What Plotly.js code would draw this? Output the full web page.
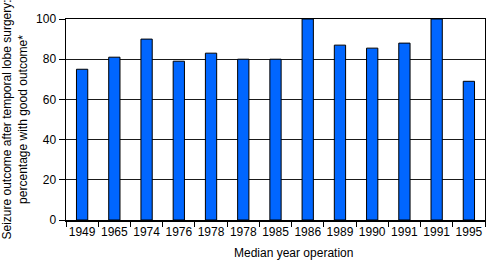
<!DOCTYPE html>
<html>
<head>
<meta charset="utf-8">
<script src="https://cdn.plot.ly/plotly-3.0.1.min.js"></script>
<style>html,body{margin:0;padding:0;background:#fff;}#chart{width:486px;height:260px;}</style>
</head>
<body>
<div id="chart"></div>
<script>
const years = ["1949","1965","1974","1976","1978","1978","1985","1986","1989","1990","1991","1991","1995"];
const goodOutcome = [75, 81, 90, 79, 83, 80, 80, 100, 87, 85.5, 88, 100, 69];

const idx = years.map((_, i) => i);

const trace = {
  type: 'bar',
  x: idx,
  y: goodOutcome,
  width: 0.35,
  marker: {color: '#0066FF', line: {color: '#000', width: 1}},
  hoverinfo: 'skip'
};

const font = {family: 'Liberation Sans, Arial, sans-serif', size: 12, color: '#000'};

const layout = {
  width: 486, height: 260,
  margin: {l: 66, r: 1, t: 19, b: 40},
  paper_bgcolor: '#fff', plot_bgcolor: '#fff',
  font: font,
  showlegend: false,
  bargap: 0,
  xaxis: {
    range: [-0.5, years.length - 0.5],
    tickmode: 'array',
    tickvals: idx,
    ticktext: years,
    ticks: '',
    showgrid: false,
    zeroline: false,
    showline: true, linecolor: '#000', linewidth: 1.5, mirror: true,
    tickfont: {size: 12},
    fixedrange: true,
    minor: {tick0: -0.5, dtick: 1, ticks: 'outside', ticklen: 5, tickcolor: '#000', tickwidth: 1, showgrid: false}
  },
  yaxis: {
    range: [0, 100],
    tickvals: [0, 20, 40, 60, 80, 100],
    ticks: 'outside', ticklen: 6, tickcolor: '#000', tickwidth: 1,
    showgrid: true, gridcolor: '#1a1a1a', gridwidth: 1,
    zeroline: false,
    showline: true, linecolor: '#000', linewidth: 1.5, mirror: true,
    tickfont: {size: 12},
    title: {text: 'Seizure outcome after temporal lobe surgery:<br>percentage with good outcome*', font: {size: 12}, standoff: 6},
    fixedrange: true
  },
  annotations: [{
    text: 'Median year operation',
    xref: 'paper', yref: 'paper',
    x: 0.542, y: 0, yshift: -33,
    xanchor: 'center', yanchor: 'middle',
    showarrow: false,
    font: {size: 12}
  }]
};

Plotly.newPlot('chart', [trace], layout, {displayModeBar: false, staticPlot: true});
</script>
</body>
</html>
